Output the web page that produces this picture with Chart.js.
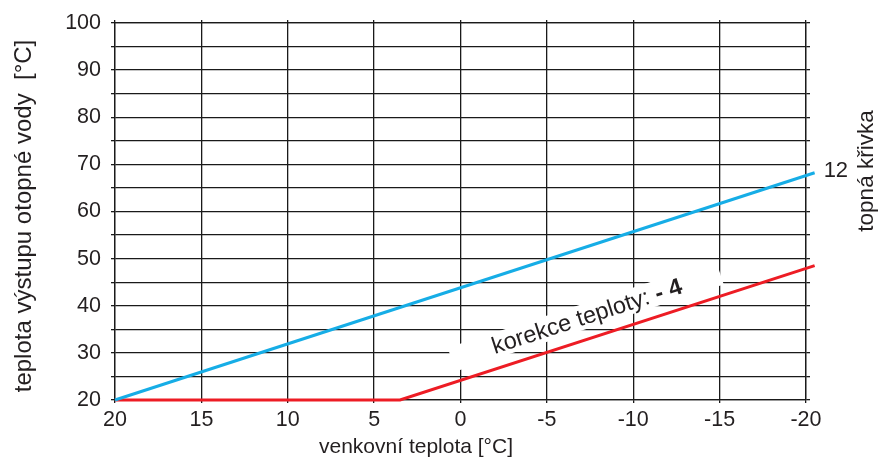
<!DOCTYPE html>
<html>
<head>
<meta charset="utf-8">
<script src="https://cdn.jsdelivr.net/npm/chart.js@4.4.1/dist/chart.umd.min.js"></script>
<style>
    html, body { margin: 0; padding: 0; background: #fff; }
</style>
</head>
<body>
<canvas id="curveChart" width="895" height="459"></canvas>
<script>
// values
const curve12Temps = [20, -20.5];
const curve12Flow = [20, 68.2];
const correctedTemps = [20, 3.5, -20.5];
const correctedFlow = [20, 20, 48.5];

const xTicks = [20, 15, 10, 5, 0, -5, -10, -15, -20];
const yGridTicks = [20, 25, 30, 35, 40, 45, 50, 55, 60, 65, 70, 75, 80, 85, 90, 95, 100];
const yLabelTicks = [20, 30, 40, 50, 60, 70, 80, 90, 100];

const curveName = '12';
const correctionText = 'korekce teploty: ';
const correctionValue = '- 4';

const FONT = '"Liberation Sans", Arial, sans-serif';
const INK = '#231f20';
const GRID = '#1a1a1a';

function toPoints(xs, ys) {
    return xs.map((x, i) => ({ x: x, y: ys[i] }));
}

function setTicks(values) {
    return scale => { scale.ticks = values.map(v => ({ value: v })); };
}

const annotations = {
    id: 'annotations',
    beforeDatasetsDraw(chart) {
        const ctx = chart.ctx;
        const xs = chart.scales.x;
        const ys = chart.scales.y;

        // label runs parallel to the rising part of the red curve
        const x1 = xs.getPixelForValue(correctedTemps[1]);
        const y1 = ys.getPixelForValue(correctedFlow[1]);
        const x2 = xs.getPixelForValue(correctedTemps[2]);
        const y2 = ys.getPixelForValue(correctedFlow[2]);
        const angle = Math.atan2(y2 - y1, x2 - x1);

        const cx = xs.getPixelForValue(-7.24);
        const cy = ys.getPixelForValue(37.9);

        ctx.save();
        ctx.translate(cx, cy);
        ctx.rotate(angle);
        ctx.fillStyle = '#fff';
        ctx.fillRect(-141, -12, 282, 25);

        ctx.textBaseline = 'middle';
        ctx.textAlign = 'left';
        ctx.font = '23.5px ' + FONT;
        const w1 = ctx.measureText(correctionText).width;
        ctx.font = 'bold 23.5px ' + FONT;
        const w2 = ctx.measureText(correctionValue).width;
        const start = -(w1 + w2) / 2 + 1;
        ctx.fillStyle = INK;
        ctx.font = '23.5px ' + FONT;
        ctx.fillText(correctionText, start, 2);
        ctx.font = 'bold 23.5px ' + FONT;
        ctx.fillText(correctionValue, start + w1, 2);
        ctx.restore();
    },
    afterDraw(chart) {
        const ctx = chart.ctx;
        const xs = chart.scales.x;
        const ys = chart.scales.y;
        ctx.save();
        ctx.fillStyle = INK;

        // curve number next to the end of the blue line
        const last = curve12Temps.length - 1;
        const ex = xs.getPixelForValue(curve12Temps[last]);
        const ey = ys.getPixelForValue(curve12Flow[last]);
        ctx.font = '22px ' + FONT;
        ctx.textAlign = 'left';
        ctx.textBaseline = 'middle';
        ctx.fillText(curveName, ex + 9, ey - 2);

        // x axis title
        ctx.font = '21px ' + FONT;
        ctx.textAlign = 'center';
        ctx.fillText('venkovní teplota [°C]', 416, 447);

        // right title
        ctx.save();
        ctx.translate(867, 171);
        ctx.rotate(-Math.PI / 2);
        ctx.font = '22.5px ' + FONT;
        ctx.fillText('topná křivka', 0, 0);
        ctx.restore();

        // y axis title
        ctx.save();
        ctx.translate(24, 216);
        ctx.rotate(-Math.PI / 2);
        ctx.font = '24px ' + FONT;
        ctx.fillText('teplota výstupu otopné vody  [°C]', 0, 0);
        ctx.restore();

        ctx.restore();
    }
};

const gridStyle = { color: GRID, lineWidth: 1.3 };

new Chart(document.getElementById('curveChart'), {
    type: 'line',
    data: {
        datasets: [
            {
                label: 'topná křivka 12',
                data: toPoints(curve12Temps, curve12Flow),
                borderColor: '#16ade6',
                borderWidth: 3,
                pointRadius: 0,
                fill: false,
                clip: false
            },
            {
                label: 'korekce teploty -4',
                data: toPoints(correctedTemps, correctedFlow),
                borderColor: '#ed1c24',
                borderWidth: 3,
                pointRadius: 0,
                fill: false,
                clip: false
            }
        ]
    },
    options: {
        responsive: false,
        animation: false,
        layout: { padding: 0 },
        plugins: {
            legend: { display: false },
            tooltip: { enabled: false }
        },
        scales: {
            x: {
                type: 'linear',
                position: 'bottom',
                min: -20,
                max: 20,
                reverse: true,
                afterBuildTicks: setTicks(xTicks),
                ticks: {
                    autoSkip: false,
                    maxRotation: 0,
                    color: INK,
                    padding: 4,
                    font: { family: FONT, size: 21.5 },
                    callback: v => String(v)
                },
                grid: { ...gridStyle, tickLength: 3 },
                border: { color: GRID, width: 1.3 },
                afterFit(scale) { scale.height = 59; }
            },
            xTop: {
                type: 'linear',
                position: 'top',
                min: -20,
                max: 20,
                reverse: true,
                afterBuildTicks: setTicks(xTicks),
                ticks: { display: false },
                grid: { ...gridStyle, drawOnChartArea: false, tickLength: 3 },
                border: { color: GRID, width: 1.3 },
                afterFit(scale) { scale.height = 18; }
            },
            y: {
                type: 'linear',
                position: 'left',
                min: 20,
                max: 100,
                afterBuildTicks: setTicks(yGridTicks),
                ticks: {
                    autoSkip: false,
                    color: INK,
                    padding: 10,
                    font: { family: FONT, size: 21.5 },
                    callback: v => yLabelTicks.includes(v) ? String(v) : ''
                },
                grid: { ...gridStyle, tickLength: 4 },
                border: { color: GRID, width: 1.3 },
                afterFit(scale) { scale.width = 115; }
            },
            yRight: {
                type: 'linear',
                position: 'right',
                min: 20,
                max: 100,
                afterBuildTicks: setTicks(yGridTicks),
                ticks: { display: false },
                grid: { ...gridStyle, drawOnChartArea: false, tickLength: 4 },
                border: { color: GRID, width: 1.3 },
                afterFit(scale) { scale.width = 89; }
            }
        }
    },
    plugins: [annotations]
});
</script>
</body>
</html>
